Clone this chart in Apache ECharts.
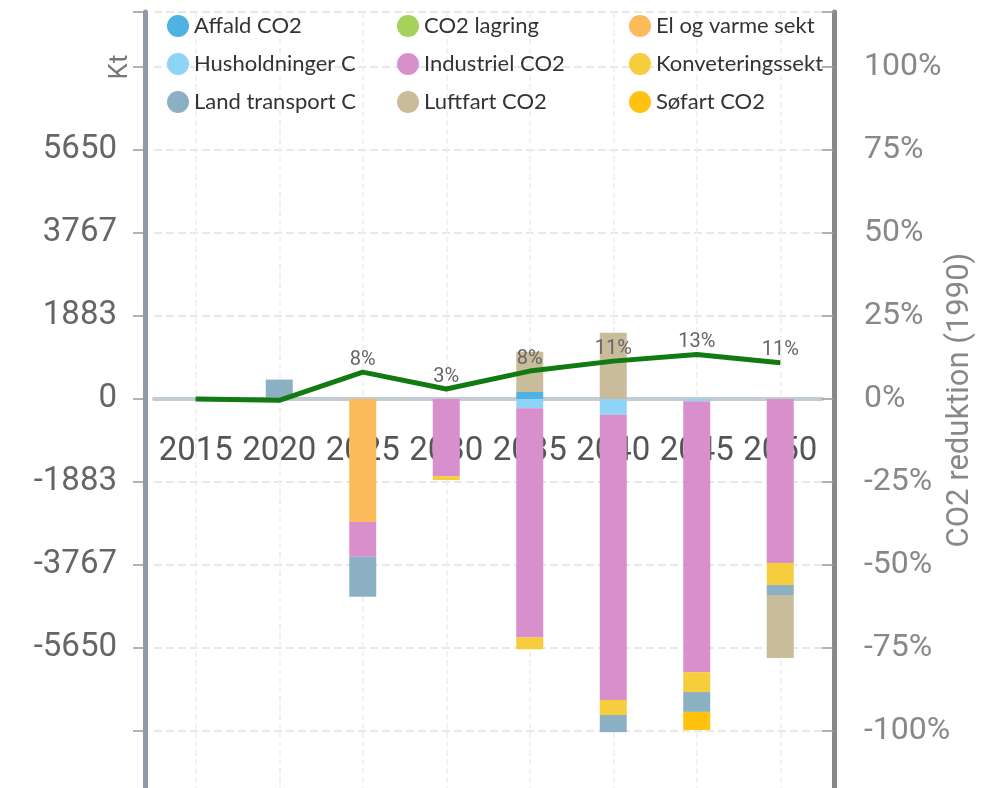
<!DOCTYPE html>
<html>
<head>
<meta charset="utf-8">
<title>CO2</title>
<script src="https://cdn.jsdelivr.net/npm/echarts@6/dist/echarts.min.js"></script>
<style>
  html, body { margin: 0; padding: 0; background: #fff; }
</style>
</head>
<body>
<div id="myChart" style="width: 992px; height: 788px;"></div>
<script>
// years on the x axis
const years = ['2015', '2020', '2025', '2030', '2035', '2040', '2045', '2050'];

// Kt per sector (negative = reduction)
const affald = [0, 0, 0, 0, 160, 0, 0, 0];
const co2Lagring = [0, 0, 0, 0, 0, 0, 0, 0];
const elVarme = [0, 0, -2790, 0, 0, 0, 0, 0];
const husholdninger = [0, 0, 0, 0, -210, -360, -50, 0];
const industriel = [0, 0, -790, -1750, -5200, -6470, -6150, -3720];
const konvertering = [0, 0, 0, -90, -270, -340, -450, -500];
const landTransport = [0, 440, -910, 0, 0, -390, -450, -230];
const luftfart = [0, 0, 0, 0, 910, 1500, 0, -1430];
const sofart = [0, 0, 0, 0, 0, 0, -410, 0];

// CO2 reduktion in % (1990)
const reduktion = [0, -0.4, 8.1, 3.0, 8.4, 11.4, 13.4, 10.9];

const ktStep = 5650 / 3;
const ktMin = -5 * ktStep;
const ktMax = 8780;

function drawChart() {
  let myChart = echarts.init(document.getElementById('myChart'));

  const gridTop = 12;
  const gridBottom = -26;
  const gridHeight = 788 - gridTop - gridBottom;
  // x axis sits on the zero line, labels included
  const zeroOffset = -gridHeight * (0 - ktMin) / (ktMax - ktMin);

  const barSeries = [
    { name: 'Affald CO2', data: affald, color: '#4fb2e3' },
    { name: 'CO2 lagring', data: co2Lagring, color: '#a6d15a' },
    { name: 'El og varme sektor CO2', data: elVarme, color: '#fbbb5a' },
    { name: 'Husholdninger CO2', data: husholdninger, color: '#8fd3f7' },
    { name: 'Industriel CO2', data: industriel, color: '#d98fcc' },
    { name: 'Konveteringssektor CO2', data: konvertering, color: '#f5cd3d' },
    { name: 'Land transport CO2', data: landTransport, color: '#8cb0c3' },
    { name: 'Luftfart CO2', data: luftfart, color: '#c9bc9a' },
    { name: 'Søfart CO2', data: sofart, color: '#ffc20e' },
  ].map(s => ({
    name: s.name,
    type: 'bar',
    stack: 'total',
    barWidth: 27,
    itemStyle: { color: s.color },
    data: s.data,
  }));

  function legendCol(left, width, names) {
    return {
      orient: 'vertical',
      top: 10,
      left: left,
      icon: 'circle',
      itemWidth: 22,
      itemHeight: 22,
      itemGap: 16,
      textStyle: {
        fontFamily: 'Lato',
        fontSize: 22,
        color: '#333',
        width: width,
        overflow: 'truncate',
        ellipsis: '',
      },
      data: names,
    };
  }

  myChart.setOption({
    animation: false,
    legend: [
      legendCol(162, 172, ['Affald CO2', 'Husholdninger CO2', 'Land transport CO2']),
      legendCol(392, 172, ['CO2 lagring', 'Industriel CO2', 'Luftfart CO2']),
      legendCol(624, 169, ['El og varme sektor CO2', 'Konveteringssektor CO2', 'Søfart CO2']),
    ],
    grid: {
      left: 154,
      right: 170,
      top: gridTop,
      bottom: gridBottom,
      containLabel: false,
      outerBoundsMode: 'none',
    },
    xAxis: {
      type: 'category',
      data: years,
      position: 'bottom',
      offset: zeroOffset,
      axisLine: {
        onZero: false,
        lineStyle: { color: '#c3ccd3', width: 4 },
      },
      axisTick: {
        alignWithLabel: true,
        length: 18,
        lineStyle: { color: '#999', width: 1.5 },
      },
      axisLabel: {
        interval: 0,
        fontFamily: 'Roboto',
        fontSize: 33,
        color: '#555',
        margin: 36,
      },
      splitLine: {
        show: true,
        alignWithLabel: true,
        lineStyle: { color: '#eeeeee', type: 'dashed', width: 1.5 },
      },
    },
    yAxis: [
      {
        type: 'value',
        name: 'Kt',
        nameLocation: 'end',
        nameRotate: 90,
        nameGap: -55,
        nameTextStyle: {
          fontFamily: 'Roboto', fontSize: 26, color: '#777',
          align: 'center', verticalAlign: 'bottom', padding: [0, 0, 12, 0],
        },
        min: ktMin,
        max: ktMax,
        interval: ktStep,
        offset: 9,
        axisLine: { show: true, lineStyle: { color: '#8c9ba7', width: 5 } },
        axisTick: { show: true, length: 12, lineStyle: { color: '#999', width: 1.5 } },
        axisLabel: {
          fontFamily: 'Roboto',
          fontSize: 33,
          color: '#666',
          margin: 28,
          formatter: function (v) {
            return Math.abs(v) > 5700 ? '' : String(Math.round(v));
          },
        },
        splitLine: { show: true, lineStyle: { color: '#e8e8e8', type: 'dashed', width: 2 } },
      },
      {
        type: 'value',
        name: 'CO2 reduktion (1990)',
        nameLocation: 'middle',
        nameRotate: 90,
        nameGap: 111,
        nameMoveOverlap: false,
        nameTextStyle: { fontFamily: 'Roboto', fontSize: 31, color: '#888', padding: [0, 0, 0, 26] },
        min: -125,
        max: ktMax / (4 * ktStep) * 100,
        interval: 25,
        offset: 12,
        position: 'right',
        axisLine: { show: true, lineStyle: { color: '#888', width: 5 } },
        axisTick: { show: true, inside: true, length: 12, lineStyle: { color: '#999', width: 1.5 } },
        axisLabel: {
          fontFamily: 'Roboto',
          fontSize: 32,
          color: '#888',
          margin: 30,
          formatter: function (v) {
            return Math.abs(v) > 101 ? '' : Math.round(v) + '%';
          },
        },
        splitLine: { show: false },
      },
    ],
    series: barSeries.concat([
      {
        name: 'CO2 reduktion',
        type: 'line',
        yAxisIndex: 1,
        data: reduktion,
        symbol: 'circle',
        symbolSize: 1,
        showSymbol: true,
        lineStyle: { color: '#117a11', width: 5 },
        itemStyle: { color: '#117a11' },
        label: {
          show: true,
          position: 'top',
          distance: 2,
          fontFamily: 'Roboto',
          fontSize: 20,
          color: '#666',
          formatter: function (p) {
            return Math.abs(p.value) < 1 ? '' : Math.round(p.value) + '%';
          },
        },
        z: 5,
      },
    ]),
  });
}

drawChart();
</script>
</body>
</html>
